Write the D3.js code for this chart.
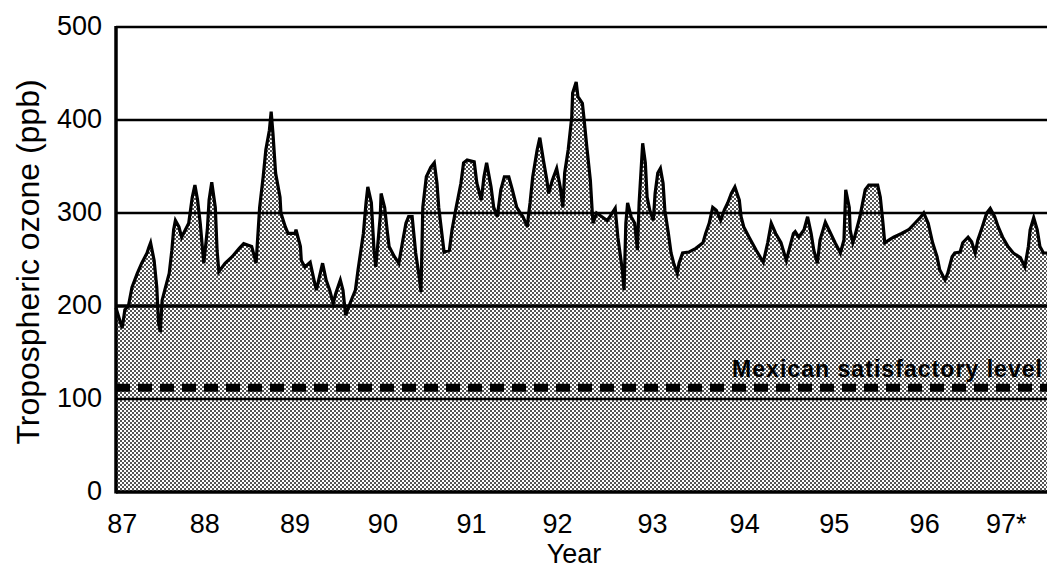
<!DOCTYPE html>
<html>
<head>
<meta charset="utf-8">
<script src="https://cdn.jsdelivr.net/npm/d3@7"></script>
<style>
  html, body { margin: 0; padding: 0; background: #fff; }
  svg { display: block; }
  text { font-family: "Liberation Sans", Arial, sans-serif; fill: #000; }
</style>
</head>
<body>
<svg id="chart" width="1047" height="568"></svg>
<script>
// ---- data ----
const years = [
  1987.00,1987.07,1987.10,1987.14,1987.18,1987.24,1987.29,1987.35,1987.37,1987.39,
  1987.43,1987.46,1987.48,1987.50,1987.52,1987.55,1987.60,1987.63,1987.65,1987.67,
  1987.71,1987.74,1987.82,1987.86,1987.89,1987.92,1987.95,1987.99,1988.03,1988.05,
  1988.08,1988.12,1988.14,1988.16,1988.23,1988.31,1988.39,1988.44,1988.53,1988.55,
  1988.58,1988.62,1988.66,1988.69,1988.73,1988.75,1988.77,1988.80,1988.85,1988.86,
  1988.91,1988.94,1989.02,1989.03,1989.08,1989.09,1989.13,1989.19,1989.24,1989.26,
  1989.33,1989.37,1989.41,1989.45,1989.48,1989.53,1989.56,1989.59,1989.64,1989.70,
  1989.73,1989.79,1989.82,1989.84,1989.88,1989.91,1989.93,1989.98,1989.99,1990.03,
  1990.06,1990.08,1990.14,1990.19,1990.23,1990.27,1990.30,1990.34,1990.38,1990.42,
  1990.44,1990.46,1990.50,1990.55,1990.59,1990.62,1990.64,1990.68,1990.70,1990.76,
  1990.79,1990.83,1990.89,1990.92,1990.96,1991.04,1991.07,1991.12,1991.15,1991.18,
  1991.23,1991.26,1991.30,1991.34,1991.38,1991.43,1991.47,1991.52,1991.56,1991.59,
  1991.64,1991.65,1991.67,1991.70,1991.75,1991.78,1991.82,1991.86,1991.88,1991.92,
  1991.97,1992.01,1992.04,1992.06,1992.10,1992.14,1992.15,1992.19,1992.21,1992.26,
  1992.28,1992.31,1992.35,1992.37,1992.38,1992.42,1992.48,1992.54,1992.57,1992.63,
  1992.66,1992.71,1992.73,1992.75,1992.77,1992.81,1992.85,1992.88,1992.90,1992.94,
  1992.97,1992.99,1993.02,1993.06,1993.08,1993.11,1993.14,1993.17,1993.19,1993.23,
  1993.26,1993.29,1993.33,1993.35,1993.39,1993.46,1993.54,1993.62,1993.65,1993.69,
  1993.73,1993.77,1993.82,1993.86,1993.90,1993.94,1993.98,1994.03,1994.05,1994.08,
  1994.14,1994.22,1994.30,1994.35,1994.39,1994.44,1994.50,1994.56,1994.59,1994.64,
  1994.66,1994.70,1994.76,1994.80,1994.84,1994.87,1994.91,1994.94,1995.00,1995.04,
  1995.11,1995.17,1995.21,1995.23,1995.27,1995.28,1995.31,1995.33,1995.39,1995.45,
  1995.49,1995.59,1995.62,1995.65,1995.67,1995.72,1995.77,1995.86,1995.94,1996.01,
  1996.07,1996.11,1996.16,1996.21,1996.26,1996.29,1996.35,1996.38,1996.43,1996.46,
  1996.52,1996.55,1996.61,1996.65,1996.69,1996.72,1996.77,1996.82,1996.86,1996.91,
  1996.95,1997.00,1997.06,1997.12,1997.20,1997.25,1997.29,1997.31,1997.35,1997.39,
  1997.42,1997.46,1997.50
];
const ozone = [
  198,176,196,200,220,235,246,257,263,268,
  249,220,182,172,206,217,235,260,282,292,
  285,274,289,317,330,314,289,246,282,314,
  333,306,260,237,246,253,262,267,264,257,
  246,306,339,368,389,409,386,343,317,300,
  285,278,278,282,264,249,242,247,225,217,
  246,228,217,203,214,228,217,190,203,217,
  239,278,311,328,311,260,242,296,321,306,
  280,264,253,246,268,289,296,296,257,231,
  215,306,339,349,354,332,306,274,258,260,
  282,303,332,354,357,355,332,314,339,354,
  328,306,296,325,339,339,325,306,300,296,
  285,296,311,339,368,381,357,335,321,335,
  348,328,306,343,368,403,429,441,425,418,
  400,371,335,303,289,300,296,292,296,305,
  274,239,217,289,311,296,289,260,311,375,
  354,317,303,292,321,343,348,332,303,278,
  257,246,235,246,257,258,262,268,278,289,
  306,303,292,303,311,321,328,314,296,285,
  274,260,247,268,289,278,268,249,260,278,
  280,274,282,296,278,260,246,271,290,282,
  268,257,271,325,306,282,268,274,296,325,
  330,330,317,289,268,271,274,278,282,289,
  295,300,289,268,253,239,228,235,253,257,
  258,268,274,269,257,271,285,300,305,296,
  285,274,264,257,252,242,264,282,295,282,
  264,257,257
];
const yTicks = [0, 100, 200, 300, 400, 500];
const gridValues = [100, 200, 300, 400];
const xTickYears = [1987.07, 1988.0, 1989.02, 1990.01, 1991.01, 1991.98, 1993.05, 1994.09, 1995.1, 1996.12, 1997.04];
const xTickLabels = ["87", "88", "89", "90", "91", "92", "93", "94", "95", "96", "97*"];
const standardValue = 112;
const standardLabel = "Mexican satisfactory level";
const yTitle = "Tropospheric ozone (ppb)";
const xTitle = "Year";

// ---- layout ----
const plotL = 116, plotR = 1047, plotT = 27, plotB = 492;
const x = d3.scaleLinear().domain([1987, 1997.5]).range([plotL, plotR]);
const y = d3.scaleLinear().domain([0, 500]).range([plotB, plotT]);

const svg = d3.select("#chart");

// dotted fill pattern
const defs = svg.append("defs");
const pat = defs.append("pattern")
  .attr("id", "dots").attr("patternUnits", "userSpaceOnUse")
  .attr("width", 4).attr("height", 4);
pat.append("rect").attr("width", 4).attr("height", 4).attr("fill", "#fff");
pat.append("rect").attr("x", 0).attr("y", 0).attr("width", 2).attr("height", 2).attr("fill", "#555");
pat.append("rect").attr("x", 2).attr("y", 2).attr("width", 2).attr("height", 2).attr("fill", "#555");

const data = years.map((yr, i) => ({ yr, v: ozone[i] }));

// area
const area = d3.area().x(d => x(d.yr)).y0(y(0)).y1(d => y(d.v));
svg.append("path").datum(data).attr("d", area).attr("fill", "url(#dots)");

// gridlines
svg.append("g").selectAll("line").data(gridValues).join("line")
  .attr("x1", plotL).attr("x2", plotR)
  .attr("y1", d => y(d)).attr("y2", d => y(d))
  .attr("stroke", "#000")
  .attr("stroke-width", d => d === 200 ? 3.5 : 2.5);

// top frame
svg.append("line").attr("x1", plotL).attr("x2", plotR)
  .attr("y1", y(500)).attr("y2", y(500))
  .attr("stroke", "#000").attr("stroke-width", 2.5);

// standard dashed line
svg.append("line").attr("x1", plotL).attr("x2", plotR)
  .attr("y1", y(standardValue)).attr("y2", y(standardValue))
  .attr("stroke", "#000").attr("stroke-width", 8)
  .attr("stroke-dasharray", "14,8");

svg.append("text")
  .attr("x", 732).attr("y", y(standardValue) - 11)
  .attr("font-size", 23).attr("font-weight", "bold")
  .attr("textLength", 310).attr("lengthAdjust", "spacing")
  .text(standardLabel);

// data line
const line = d3.line().x(d => x(d.yr)).y(d => y(d.v));
svg.append("path").datum(data).attr("d", line)
  .attr("fill", "none").attr("stroke", "#000").attr("stroke-width", 3.2)
  .attr("stroke-linejoin", "miter");

// axes lines
svg.append("line").attr("x1", plotL).attr("x2", plotL).attr("y1", plotT - 1).attr("y2", plotB + 1.5)
  .attr("stroke", "#000").attr("stroke-width", 3.5);
svg.append("line").attr("x1", plotL).attr("x2", plotR).attr("y1", plotB).attr("y2", plotB)
  .attr("stroke", "#000").attr("stroke-width", 3.5);

// y tick labels
svg.append("g").selectAll("text").data(yTicks).join("text")
  .attr("x", 102).attr("y", d => y(d) + 8)
  .attr("text-anchor", "end").attr("font-size", 27)
  .text(d => d);

// x tick labels
svg.append("g").selectAll("text").data(xTickYears).join("text")
  .attr("x", d => x(d)).attr("y", 533)
  .attr("text-anchor", "middle").attr("font-size", 27)
  .text((d, i) => xTickLabels[i]);

// titles
svg.append("text").attr("x", 574).attr("y", 563)
  .attr("text-anchor", "middle").attr("font-size", 27).text(xTitle);
svg.append("text")
  .attr("transform", "translate(39,262) rotate(-90)")
  .attr("text-anchor", "middle").attr("font-size", 32).text(yTitle);
</script>
</body>
</html>
